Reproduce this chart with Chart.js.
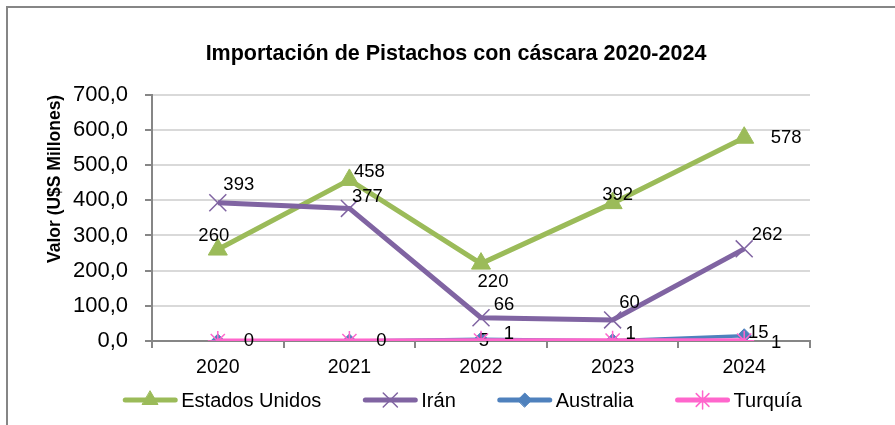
<!DOCTYPE html>
<html>
<head>
<meta charset="utf-8">
<script src="https://cdn.jsdelivr.net/npm/chart.js@4.4.1/dist/chart.umd.min.js"></script>
<style>
  html, body { margin: 0; padding: 0; background: #fff; }
  #wrap { width: 895px; height: 425px; }
</style>
</head>
<body>
<div id="wrap"><canvas id="chart" width="895" height="425"></canvas></div>
<script>
// Data
const years = ['2020', '2021', '2022', '2023', '2024'];
const estadosUnidos = [260, 458, 220, 392, 578];
const iran = [393, 377, 66, 60, 262];
const australia = [0, 0, 5, 1, 15];
const turquia = [0, 0, 1, 1, 1];
const yMin = 0;
const yMax = 700;
const yStep = 100;

const FONT = "'Liberation Sans', Arial, sans-serif";
const AXIS_GRAY = '#868686';

// label offsets (dx, dy) from the point, null = label not shown
const labelOffsets = [
    [[-4, -14], [20, -8], [12, 18], [5, -8], [42, 0]],
    [[21, -18], [18, -11], [23, -13], [17, -17], [23, -14]],
    [null, null, [3, 2], null, [14, -3]],
    [[31, 0], [32, 0], [28, -7], [18, -7], [32, 2]]
];

const frame = {
    id: 'frame',
    beforeDraw(chart) {
        const ctx = chart.ctx;
        ctx.save();
        ctx.fillStyle = AXIS_GRAY;
        ctx.fillRect(6, 6, chart.width - 6, 2);
        ctx.fillRect(6, 6, 2, chart.height - 6);
        ctx.restore();
    }
};

const dataLabels = {
    id: 'dataLabels',
    afterDatasetDraw(chart, args) {
        const ctx = chart.ctx;
        const ds = chart.data.datasets[args.index];
        const offs = labelOffsets[args.index];
        ctx.save();
        ctx.font = '18.5px ' + FONT;
        ctx.fillStyle = '#000';
        ctx.textAlign = 'center';
        ctx.textBaseline = 'middle';
        args.meta.data.forEach((pt, i) => {
            const o = offs[i];
            if (!o) return;
            ctx.fillText(String(ds.data[i]), pt.x + o[0], pt.y + o[1]);
        });
        ctx.restore();
    }
};

const legendRow = {
    id: 'legendRow',
    afterDraw(chart) {
        const ctx = chart.ctx;
        const sample = 56, gapText = 3, gapItem = 41;
        const y = 400;
        ctx.save();
        ctx.font = '20px ' + FONT;
        ctx.textBaseline = 'middle';
        const items = chart.data.datasets.map(ds => ({ ds, w: ctx.measureText(ds.label).width }));
        const total = items.reduce((s, it) => s + sample + gapText + it.w, 0) + gapItem * (items.length - 1);
        let x = 462 - total / 2;
        items.forEach(it => {
            const ds = it.ds;
            ctx.strokeStyle = ds.borderColor;
            ctx.fillStyle = ds.borderColor;
            ctx.lineWidth = 5;
            ctx.lineCap = 'round';
            ctx.beginPath();
            ctx.moveTo(x + 3, y);
            ctx.lineTo(x + sample - 3, y);
            ctx.stroke();
            ctx.lineWidth = ds.pointBorderWidth;
            Chart.helpers.drawPoint(ctx, {
                pointStyle: ds.pointStyle,
                radius: ds.legendRadius,
                borderWidth: ds.pointBorderWidth,
                rotation: 0
            }, x + sample / 2, y);
            ctx.fillStyle = '#000';
            ctx.fillText(ds.label, x + sample + gapText, y + 1);
            x += sample + gapText + it.w + gapItem;
        });
        ctx.restore();
    }
};

new Chart(document.getElementById('chart'), {
    type: 'line',
    data: {
        labels: years,
        datasets: [
            {
                label: 'Estados Unidos',
                data: estadosUnidos,
                borderColor: '#9BBB59',
                backgroundColor: '#9BBB59',
                borderWidth: 5,
                pointStyle: 'triangle',
                pointRadius: 11,
                pointBorderWidth: 1,
                legendRadius: 9,
                order: 4
            },
            {
                label: 'Irán',
                data: iran,
                borderColor: '#8064A2',
                backgroundColor: '#8064A2',
                borderWidth: 5,
                pointStyle: 'crossRot',
                pointRadius: 12,
                pointBorderWidth: 1.5,
                legendRadius: 10,
                order: 3
            },
            {
                label: 'Australia',
                data: australia,
                borderColor: '#4F81BD',
                backgroundColor: '#4F81BD',
                borderWidth: 3.5,
                pointStyle: 'rectRot',
                pointRadius: 7,
                pointBorderWidth: 1,
                legendRadius: 7,
                order: 2
            },
            {
                label: 'Turquía',
                data: turquia,
                borderColor: '#FF66CC',
                backgroundColor: '#FF66CC',
                borderWidth: 5,
                pointStyle: 'star',
                pointRadius: 10,
                pointBorderWidth: 1.5,
                legendRadius: 9,
                order: 1
            }
        ]
    },
    options: {
        responsive: false,
        animation: false,
        layout: { padding: { top: 0, right: 0, bottom: 34, left: 17 } },
        elements: { line: { tension: 0 } },
        plugins: {
            legend: { display: false },
            tooltip: { enabled: false },
            title: {
                display: true,
                text: 'Importación de Pistachos con cáscara 2020-2024',
                color: '#000',
                font: { family: FONT, size: 21.5, weight: 'bold' },
                padding: { top: 41, bottom: 28 }
            }
        },
        scales: {
            x: {
                offset: true,
                grid: {
                    offset: true,
                    drawOnChartArea: false,
                    drawTicks: true,
                    tickLength: 7,
                    color: AXIS_GRAY,
                    lineWidth: 2
                },
                border: { color: AXIS_GRAY, width: 2 },
                ticks: { color: '#000', font: { family: FONT, size: 19.5 }, padding: 8 },
                afterFit: s => { s.height = 50; }
            },
            y: {
                min: yMin,
                max: yMax,
                grid: { color: '#D9D9D9', lineWidth: 2, tickColor: AXIS_GRAY, tickLength: 7 },
                border: { color: AXIS_GRAY, width: 2 },
                ticks: {
                    stepSize: yStep,
                    color: '#000',
                    font: { family: FONT, size: 22 },
                    padding: 17,
                    callback: v => v.toFixed(1).replace('.', ',')
                },
                title: {
                    display: true,
                    text: 'Valor (U$S Millones)',
                    align: 'end',
                    color: '#000',
                    font: { family: FONT, size: 17.5, weight: 'bold' },
                    padding: { top: 28, bottom: 0 }
                },
                afterFit: s => { s.width = 135; }
            },
            // empty space on the right of the plot
            yRight: {
                position: 'right',
                grid: { display: false },
                border: { display: false },
                ticks: { display: false },
                afterFit: s => { s.width = 85; }
            }
        }
    },
    plugins: [frame, dataLabels, legendRow]
});
</script>
</body>
</html>
